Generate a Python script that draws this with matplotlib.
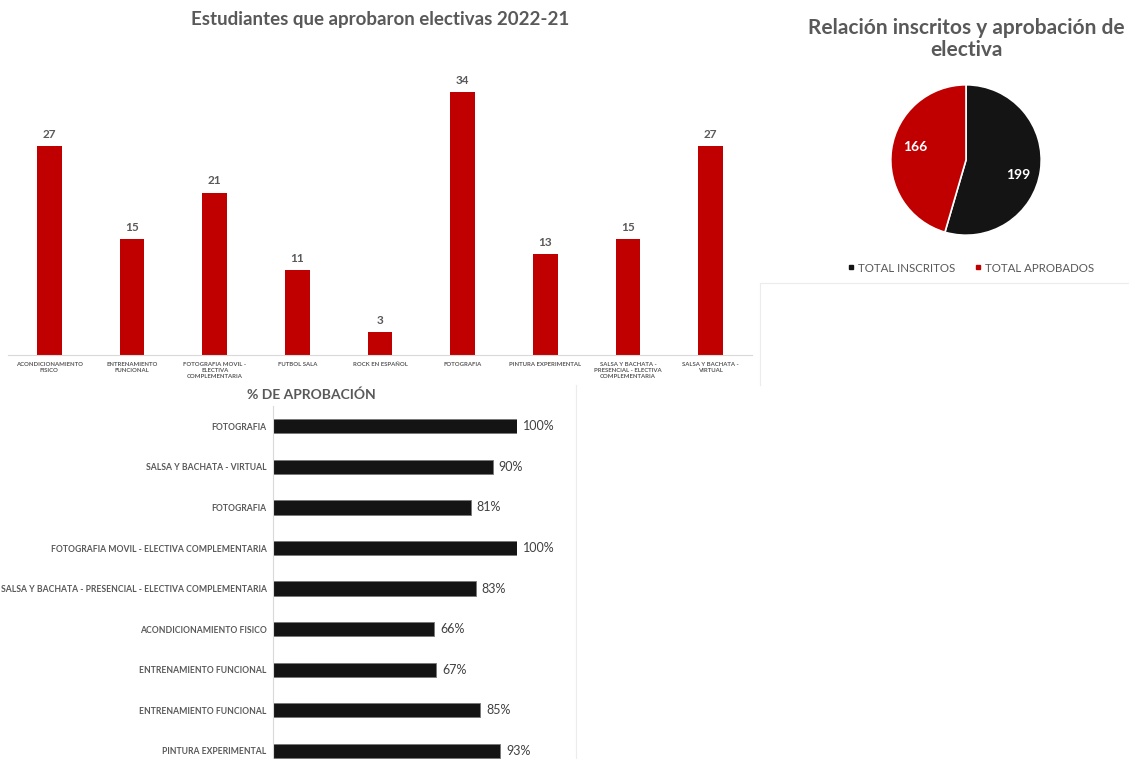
import matplotlib.pyplot as plt
from matplotlib.lines import Line2D

# Estudiantes que aprobaron electivas 2022-21
electivas = [
    "ACONDICIONAMIENTO\nFISICO",
    "ENTRENAMIENTO\nFUNCIONAL",
    "FOTOGRAFIA MOVIL -\nELECTIVA\nCOMPLEMENTARIA",
    "FUTBOL SALA",
    "ROCK EN ESPAÑOL",
    "FOTOGRAFIA",
    "PINTURA EXPERIMENTAL",
    "SALSA Y BACHATA -\nPRESENCIAL - ELECTIVA\nCOMPLEMENTARIA",
    "SALSA Y BACHATA -\nVIRTUAL",
]
aprobados = [27, 15, 21, 11, 3, 34, 13, 15, 27]

# Relacion inscritos / aprobados
pie_labels = ["TOTAL INSCRITOS", "TOTAL APROBADOS"]
pie_values = [199, 166]

# % de aprobacion
pct_labels = [
    "FOTOGRAFIA",
    "SALSA Y BACHATA - VIRTUAL",
    "FOTOGRAFIA",
    "FOTOGRAFIA MOVIL - ELECTIVA COMPLEMENTARIA",
    "SALSA Y BACHATA - PRESENCIAL - ELECTIVA COMPLEMENTARIA",
    "ACONDICIONAMIENTO FISICO",
    "ENTRENAMIENTO FUNCIONAL",
    "ENTRENAMIENTO FUNCIONAL",
    "PINTURA EXPERIMENTAL",
]
pct_values = [1.00, 0.90, 0.81, 1.00, 0.83, 0.66, 0.67, 0.85, 0.93]

RED = "#C00000"
BLACK = "#141414"
GRAY = "#595959"
plt.rcParams["font.family"] = ["Lato", "DejaVu Sans"]

W, H = 1129, 759
fig = plt.figure(figsize=(W / 100, H / 100), dpi=100)


def box(x0, y0, x1, y1):
    # pixel box (top-left origin) -> figure fraction
    return [x0 / W, 1 - y1 / H, (x1 - x0) / W, (y1 - y0) / H]


# faint chart borders
fig.add_artist(Line2D([760 / W, 1], [1 - 283 / H] * 2, color="#ececec", lw=0.8))
fig.add_artist(Line2D([760 / W] * 2, [1 - 283 / H, 1 - 385 / H], color="#ececec", lw=0.8))
fig.add_artist(Line2D([576 / W] * 2, [1 - 385 / H, 0], color="#ececec", lw=0.8))

# --- column chart ---
ax1 = fig.add_axes(box(8, 70, 752, 355))
x = range(len(aprobados))
bars = ax1.bar(x, aprobados, width=0.3, color=RED)
ax1.set_xlim(-0.5, len(aprobados) - 0.5)
ax1.set_ylim(0, 36.85)
for b, v in zip(bars, aprobados):
    ax1.text(b.get_x() + b.get_width() / 2, v + 0.8, str(v), ha="center", va="bottom",
             fontsize=8.5, fontweight="bold", color=GRAY)
for s in ["top", "right", "left"]:
    ax1.spines[s].set_visible(False)
ax1.spines["bottom"].set_color("#d9d9d9")
ax1.set_xticks(list(x))
ax1.set_xticklabels(electivas, fontsize=4.3, fontweight="bold", color=GRAY, linespacing=1.3)
ax1.tick_params(axis="x", length=0, pad=5)
ax1.set_yticks([])
fig.text(380 / W, 1 - 20 / H, "Estudiantes que aprobaron electivas 2022-21", ha="center", va="center",
         fontsize=13.5, fontweight="bold", color=GRAY)

# --- pie ---
ax2 = fig.add_axes(box(872, 66, 1060, 254))
ax2.pie(pie_values, colors=[BLACK, RED], startangle=90, counterclock=False,
        wedgeprops=dict(edgecolor="white", linewidth=1.2))
ax2.set_xlim(-1.25, 1.25)
ax2.set_ylim(-1.25, 1.25)
ax2.text(0.7, -0.2, str(pie_values[0]), ha="center", va="center", color="white",
         fontsize=10, fontweight="bold")
ax2.text(-0.68, 0.17, str(pie_values[1]), ha="center", va="center", color="white",
         fontsize=10, fontweight="bold")
fig.text(966 / W, 1 - 39 / H, "Relación inscritos y aprobación de\nelectiva", ha="center", va="center",
         fontsize=15, fontweight="bold", color=GRAY, linespacing=1.15)
handles = [Line2D([], [], marker="s", ls="", color=c, markersize=3) for c in [BLACK, RED]]
fig.legend(handles, pie_labels, loc="center", bbox_to_anchor=(970 / W, 1 - 268 / H), ncol=2,
           frameon=False, fontsize=8.3, labelcolor=GRAY, handletextpad=0.2, columnspacing=1.6,
           handlelength=0.8)

# --- horizontal bars ---
ax3 = fig.add_axes(box(273, 406, 517, 759))
y = range(len(pct_values))
ax3.barh(y, pct_values, height=0.35, color=BLACK, edgecolor="#777777", linewidth=0.6)
ax3.set_xlim(0, 1.0)
ax3.set_ylim(8.2, -0.5)
for yi, v in zip(y, pct_values):
    ax3.text(v + 0.025, yi, f"{v:.0%}", ha="left", va="center", fontsize=9,
             color="#404040", clip_on=False)
for s in ["top", "right", "bottom"]:
    ax3.spines[s].set_visible(False)
ax3.spines["left"].set_color("#d9d9d9")
ax3.set_yticks(list(y))
ax3.set_yticklabels(pct_labels, fontsize=6.2, fontweight="bold", color=GRAY)
ax3.tick_params(axis="y", length=0, pad=4.5)
ax3.set_xticks([])
fig.text(311 / W, 1 - 395 / H, "% DE APROBACIÓN", ha="center", va="center",
         fontsize=10, fontweight="bold", color=GRAY)

fig.savefig("out.png", dpi=100, facecolor="white")
